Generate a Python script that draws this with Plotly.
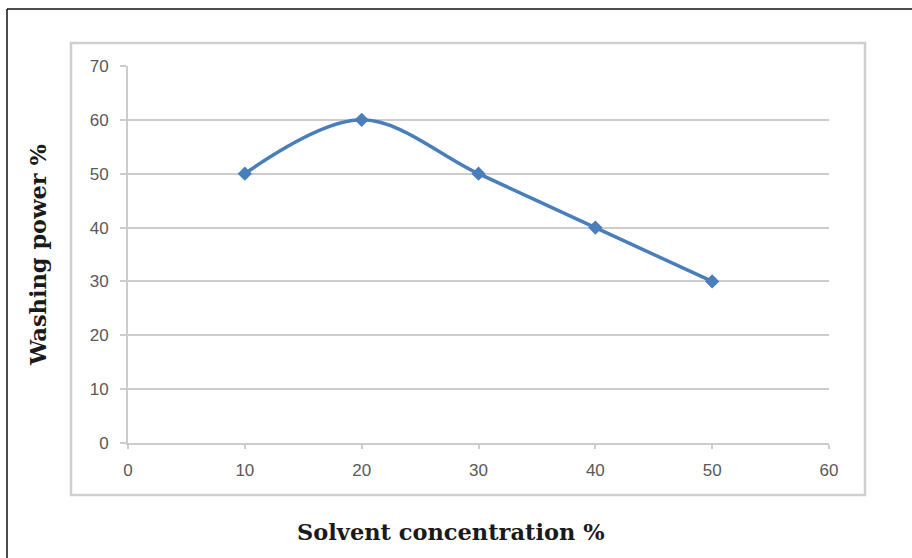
import plotly.graph_objects as go

# Data
solvent_concentration = [10, 20, 30, 40, 50]
washing_power = [50, 60, 50, 40, 30]
x_ticks = [0, 10, 20, 30, 40, 50, 60]
y_ticks = [0, 10, 20, 30, 40, 50, 60, 70]
x_title = "Solvent concentration %"
y_title = "Washing power %"

W, H = 912, 558
L, R, T, B = 128, 829, 66, 443  # plot area pixel bounds
pw, ph = R - L, B - T

def px(x):
    return (x - L) / pw

def py(y):
    return (B - y) / ph

fig = go.Figure()
fig.add_trace(go.Scatter(
    x=solvent_concentration, y=washing_power,
    mode="lines+markers",
    line=dict(color="#4a7ebb", width=3.5, shape="spline", smoothing=1),
    marker=dict(symbol="diamond", size=11, color="#4a7ebb"),
    cliponaxis=False, showlegend=False,
))

grid = "#cccccc"
tickfont = dict(family="Liberation Sans, Arial, sans-serif", size=17, color="#595959")
titlefont = dict(family="DejaVu Serif, serif", size=22.5, color="#1a1a1a")

fig.update_layout(
    width=W, height=H,
    margin=dict(l=L, r=W - R, t=T, b=H - B, pad=0),
    paper_bgcolor="white", plot_bgcolor="white",
    xaxis=dict(
        range=[0, 60], tickvals=x_ticks, ticktext=[str(v) for v in x_ticks],
        showgrid=False, zeroline=False,
        showline=True, linecolor=grid, linewidth=2,
        ticks="outside", ticklen=4, tickcolor=grid, tickwidth=2,
        tickfont=tickfont, ticklabelstandoff=7,
    ),
    yaxis=dict(
        range=[0, 70], tickvals=y_ticks, ticktext=[str(v) for v in y_ticks],
        showgrid=True, gridcolor=grid, gridwidth=2, zeroline=False,
        showline=True, linecolor=grid, linewidth=2,
        ticks="outside", ticklen=6, tickcolor=grid, tickwidth=2,
        tickfont=tickfont, ticklabelstandoff=8,
    ),
    shapes=[
        dict(type="rect", xref="paper", yref="paper",
             x0=px(71), x1=px(865), y0=py(495), y1=py(43),
             line=dict(color="#cfcfcf", width=2.5), layer="below"),
        dict(type="line", xref="paper", yref="paper",
             x0=px(7), x1=px(915), y0=py(9), y1=py(9),
             line=dict(color="#111111", width=1.5)),
        dict(type="line", xref="paper", yref="paper",
             x0=px(7), x1=px(7), y0=py(9), y1=py(560),
             line=dict(color="#111111", width=1.5)),
    ],
    annotations=[
        dict(text="<b>" + x_title + "</b>", xref="paper", yref="paper",
             x=px(451), y=py(532), xanchor="center", yanchor="middle",
             showarrow=False, font=titlefont),
        dict(text="<b>" + y_title + "</b>", xref="paper", yref="paper",
             x=px(38), y=py(255), xanchor="center", yanchor="middle",
             textangle=-90, showarrow=False, font=titlefont),
    ],
)

fig.write_html("out.html")
